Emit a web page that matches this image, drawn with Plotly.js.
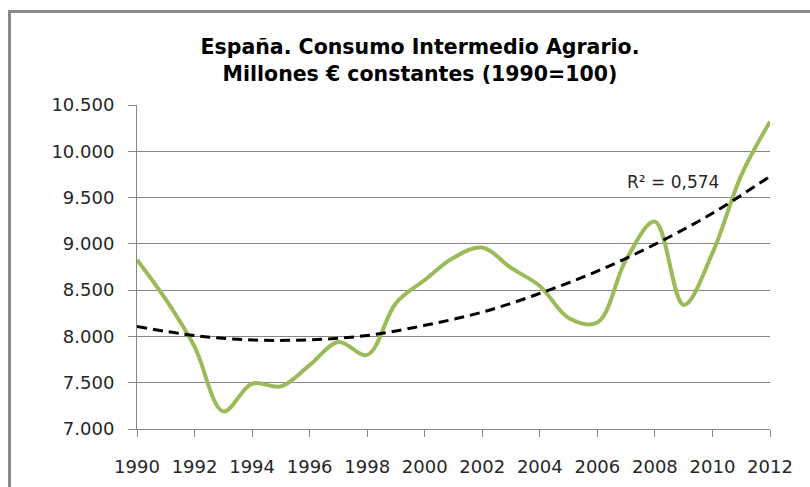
<!DOCTYPE html>
<html>
<head>
<meta charset="utf-8">
<script src="https://cdn.plot.ly/plotly-3.0.1.min.js"></script>
<style>
  html, body { margin: 0; padding: 0; width: 810px; height: 487px; overflow: hidden; background: #fff; }
  #chart { position: absolute; left: 0; top: 0; width: 810px; height: 487px; }
  #frame { position: absolute; left: 8px; top: 10px; width: 900px; height: 600px;
           border-left: 3px solid #8a8a8a; border-top: 3px solid #8a8a8a; pointer-events: none; }
</style>
</head>
<body>
<div id="chart"></div>
<div id="frame"></div>
<script>
// Consumo Intermedio Agrario, millones € constantes (1990=100)
const years = [1990, 1991, 1992, 1993, 1994, 1995, 1996, 1997, 1998, 1999, 2000, 2001,
               2002, 2003, 2004, 2005, 2006, 2007, 2008, 2009, 2010, 2011, 2012];
const consumo = [8830, 8400, 7890, 7190, 7490, 7460, 7690, 7940, 7800, 8360, 8610, 8850,
                 8960, 8740, 8545, 8200, 8150, 8830, 9240, 8340, 8900, 9740, 10320];

// Polynomial trend line (order 2)
const trendYears = [1990, 1992, 1994, 1996, 1998, 2000, 2002, 2004, 2006, 2008, 2010, 2012];
const trendValues = [8107, 8010, 7962, 7964, 8010, 8120, 8262, 8465, 8705, 8995, 9330, 9730];

const titleText = 'España. Consumo Intermedio Agrario.<br>Millones € constantes (1990=100)';
const r2Text = 'R² = 0,574';
const yTicks = [7000, 7500, 8000, 8500, 9000, 9500, 10000, 10500];
const xTicks = [1990, 1992, 1994, 1996, 1998, 2000, 2002, 2004, 2006, 2008, 2010, 2012];

const traces = [
  {
    x: years, y: consumo, type: 'scatter', mode: 'lines',
    line: { color: '#9BBB59', width: 4, shape: 'spline', smoothing: 1 },
    hoverinfo: 'x+y', cliponaxis: false
  },
  {
    x: trendYears, y: trendValues, type: 'scatter', mode: 'lines',
    line: { color: '#000000', width: 3, dash: '10px,6px', shape: 'spline', smoothing: 1 },
    hoverinfo: 'x+y'
  }
];

const layout = {
  width: 810, height: 487,
  margin: { l: 137, r: 40, t: 105, b: 58 },
  paper_bgcolor: '#ffffff', plot_bgcolor: '#ffffff',
  separators: ',.',
  showlegend: false,
  font: { family: 'DejaVu Sans', size: 18, color: '#262626' },
  title: {
    text: titleText,
    font: { family: 'DejaVu Sans', size: 20.5, color: '#000000', weight: 'bold' },
    x: 420 / 810, xanchor: 'center', xref: 'container',
    y: 1 - 54 / 487, yanchor: 'top', yref: 'container'
  },
  xaxis: {
    range: [1990, 2012], tickvals: xTicks, tickformat: 'd',
    showgrid: false, zeroline: false,
    showline: true, linecolor: '#868686', linewidth: 1,
    ticks: 'outside', ticklen: 7, tickcolor: '#868686', tickwidth: 1,
    ticklabelstandoff: 14,
    tickfont: { family: 'DejaVu Sans', size: 18, color: '#262626' }
  },
  yaxis: {
    range: [7000, 10500], tickvals: yTicks, tickformat: ',d',
    showgrid: true, gridcolor: '#868686', gridwidth: 1, zeroline: false,
    showline: true, linecolor: '#868686', linewidth: 1,
    ticks: 'outside', ticklen: 8, tickcolor: '#868686', tickwidth: 1,
    ticklabelstandoff: 10,
    tickfont: { family: 'DejaVu Sans', size: 18, color: '#262626' }
  },
  annotations: [
    {
      text: r2Text, x: 2008.63, y: 9670, xref: 'x', yref: 'y',
      showarrow: false, xanchor: 'center', yanchor: 'middle',
      font: { family: 'DejaVu Sans', size: 17, color: '#262626' }
    }
  ]
};

Plotly.newPlot('chart', traces, layout, { displayModeBar: false, staticPlot: true });
</script>
</body>
</html>
